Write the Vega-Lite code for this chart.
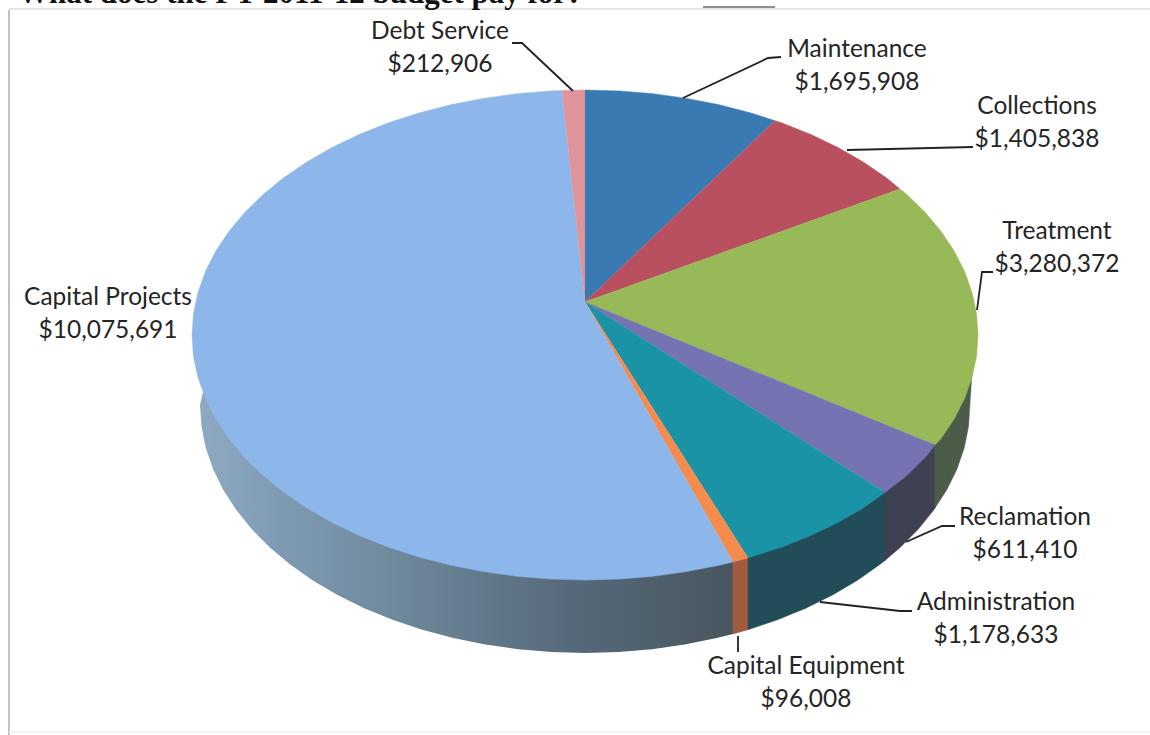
{
  "$schema": "https://vega.github.io/schema/vega-lite/v6.json",
  "width": 1150,
  "height": 735,
  "padding": 0,
  "autosize": {"type": "none"},
  "background": "white",
  "config": {"view": {"stroke": null}},
  "resolve": {"scale": {"fill": "independent", "stroke": "independent"}},
  "datasets": {
    "budget": [
      {"slice": "Debt Service", "amount": 212906, "labelU": -145, "labelV": 303},
      {"slice": "Maintenance", "amount": 1695908, "labelU": 272, "labelV": 285},
      {"slice": "Collections", "amount": 1405838, "labelU": 452, "labelV": 228},
      {"slice": "Treatment", "amount": 3280372, "labelU": 472, "labelV": 103},
      {"slice": "Reclamation", "amount": 611410, "labelU": 440, "labelV": -183},
      {"slice": "Administration", "amount": 1178633, "labelU": 411, "labelV": -268},
      {"slice": "Capital Equipment", "amount": 96008, "labelU": 221, "labelV": -332},
      {"slice": "Capital Projects", "amount": 10075691, "labelU": -477, "labelV": 37}
    ],
    "sides": [
      {"slice": "Capital Projects", "seq": 0, "u": -378, "v": -40},
      {"slice": "Capital Projects", "seq": 1, "u": -385, "v": -70},
      {"slice": "Capital Projects", "seq": 2, "u": -383.5, "v": -91.6},
      {"slice": "Capital Projects", "seq": 3, "u": -379.2, "v": -113.1},
      {"slice": "Capital Projects", "seq": 4, "u": -371.9, "v": -134.2},
      {"slice": "Capital Projects", "seq": 5, "u": -361.8, "v": -154.8},
      {"slice": "Capital Projects", "seq": 6, "u": -348.9, "v": -174.8},
      {"slice": "Capital Projects", "seq": 7, "u": -333.4, "v": -194},
      {"slice": "Capital Projects", "seq": 8, "u": -315.4, "v": -212.2},
      {"slice": "Capital Projects", "seq": 9, "u": -294.9, "v": -229.4},
      {"slice": "Capital Projects", "seq": 10, "u": -272.2, "v": -245.4},
      {"slice": "Capital Projects", "seq": 11, "u": -247.5, "v": -260},
      {"slice": "Capital Projects", "seq": 12, "u": -220.8, "v": -273.2},
      {"slice": "Capital Projects", "seq": 13, "u": -192.5, "v": -284.8},
      {"slice": "Capital Projects", "seq": 14, "u": -162.7, "v": -294.8},
      {"slice": "Capital Projects", "seq": 15, "u": -131.7, "v": -303},
      {"slice": "Capital Projects", "seq": 16, "u": -99.6, "v": -309.5},
      {"slice": "Capital Projects", "seq": 17, "u": -66.9, "v": -314.2},
      {"slice": "Capital Projects", "seq": 18, "u": -33.6, "v": -317.1},
      {"slice": "Capital Projects", "seq": 19, "u": 0, "v": -318},
      {"slice": "Capital Projects", "seq": 20, "u": 33.6, "v": -317.1},
      {"slice": "Capital Projects", "seq": 21, "u": 66.9, "v": -314.2},
      {"slice": "Capital Projects", "seq": 22, "u": 99.6, "v": -309.5},
      {"slice": "Capital Projects", "seq": 23, "u": 131.7, "v": -303},
      {"slice": "Capital Projects", "seq": 24, "u": 148, "v": -299},
      {"slice": "Capital Projects", "seq": 25, "u": 148, "v": -225},
      {"slice": "Capital Equipment", "seq": 0, "u": 148, "v": -225},
      {"slice": "Capital Equipment", "seq": 1, "u": 148, "v": -299},
      {"slice": "Capital Equipment", "seq": 2, "u": 163, "v": -294.7},
      {"slice": "Capital Equipment", "seq": 3, "u": 163, "v": -221},
      {"slice": "Administration", "seq": 0, "u": 163, "v": -221},
      {"slice": "Administration", "seq": 1, "u": 163, "v": -294.7},
      {"slice": "Administration", "seq": 2, "u": 192.5, "v": -284.8},
      {"slice": "Administration", "seq": 3, "u": 220.8, "v": -273.2},
      {"slice": "Administration", "seq": 4, "u": 247.5, "v": -260},
      {"slice": "Administration", "seq": 5, "u": 272.2, "v": -245.4},
      {"slice": "Administration", "seq": 6, "u": 294.9, "v": -229.4},
      {"slice": "Administration", "seq": 7, "u": 300, "v": -225.5},
      {"slice": "Administration", "seq": 8, "u": 300, "v": -155},
      {"slice": "Reclamation", "seq": 0, "u": 300, "v": -155},
      {"slice": "Reclamation", "seq": 1, "u": 300, "v": -225.5},
      {"slice": "Reclamation", "seq": 2, "u": 315.4, "v": -212.2},
      {"slice": "Reclamation", "seq": 3, "u": 333.4, "v": -194},
      {"slice": "Reclamation", "seq": 4, "u": 348.9, "v": -174.8},
      {"slice": "Reclamation", "seq": 5, "u": 350, "v": -173},
      {"slice": "Reclamation", "seq": 6, "u": 350, "v": -108},
      {"slice": "Treatment", "seq": 0, "u": 350, "v": -108},
      {"slice": "Treatment", "seq": 1, "u": 350, "v": -173},
      {"slice": "Treatment", "seq": 2, "u": 361.8, "v": -154.8},
      {"slice": "Treatment", "seq": 3, "u": 371.9, "v": -134.2},
      {"slice": "Treatment", "seq": 4, "u": 379.2, "v": -113.1},
      {"slice": "Treatment", "seq": 5, "u": 383.5, "v": -91.6},
      {"slice": "Treatment", "seq": 6, "u": 385.5, "v": -60},
      {"slice": "Treatment", "seq": 7, "u": 387, "v": -36}
    ],
    "tops": [
      {"slice": "Maintenance", "seq": 0, "u": 0, "v": 33},
      {"slice": "Maintenance", "seq": 1, "u": 0, "v": 245},
      {"slice": "Maintenance", "seq": 2, "u": 34.3, "v": 244.1},
      {"slice": "Maintenance", "seq": 3, "u": 68.2, "v": 241.3},
      {"slice": "Maintenance", "seq": 4, "u": 101.7, "v": 236.6},
      {"slice": "Maintenance", "seq": 5, "u": 134.4, "v": 230.2},
      {"slice": "Maintenance", "seq": 6, "u": 166.1, "v": 222},
      {"slice": "Maintenance", "seq": 7, "u": 190, "v": 214.3},
      {"slice": "Collections", "seq": 0, "u": 0, "v": 33},
      {"slice": "Collections", "seq": 1, "u": 190, "v": 214.3},
      {"slice": "Collections", "seq": 2, "u": 196.5, "v": 212.2},
      {"slice": "Collections", "seq": 3, "u": 225.4, "v": 200.7},
      {"slice": "Collections", "seq": 4, "u": 252.6, "v": 187.7},
      {"slice": "Collections", "seq": 5, "u": 277.9, "v": 173.2},
      {"slice": "Collections", "seq": 6, "u": 301, "v": 157.5},
      {"slice": "Collections", "seq": 7, "u": 315, "v": 146},
      {"slice": "Treatment", "seq": 0, "u": 0, "v": 33},
      {"slice": "Treatment", "seq": 1, "u": 315, "v": 146},
      {"slice": "Treatment", "seq": 2, "u": 321.9, "v": 140.5},
      {"slice": "Treatment", "seq": 3, "u": 340.3, "v": 122.5},
      {"slice": "Treatment", "seq": 4, "u": 356.2, "v": 103.5},
      {"slice": "Treatment", "seq": 5, "u": 369.3, "v": 83.8},
      {"slice": "Treatment", "seq": 6, "u": 379.6, "v": 63.4},
      {"slice": "Treatment", "seq": 7, "u": 387, "v": 42.5},
      {"slice": "Treatment", "seq": 8, "u": 391.5, "v": 21.4},
      {"slice": "Treatment", "seq": 9, "u": 393, "v": 0},
      {"slice": "Treatment", "seq": 10, "u": 391.5, "v": -21.4},
      {"slice": "Treatment", "seq": 11, "u": 387, "v": -42.5},
      {"slice": "Treatment", "seq": 12, "u": 379.6, "v": -63.4},
      {"slice": "Treatment", "seq": 13, "u": 369.3, "v": -83.8},
      {"slice": "Treatment", "seq": 14, "u": 356.2, "v": -103.5},
      {"slice": "Treatment", "seq": 15, "u": 350, "v": -110},
      {"slice": "Reclamation", "seq": 0, "u": 0, "v": 33},
      {"slice": "Reclamation", "seq": 1, "u": 350, "v": -110},
      {"slice": "Reclamation", "seq": 2, "u": 340.3, "v": -122.5},
      {"slice": "Reclamation", "seq": 3, "u": 321.9, "v": -140.5},
      {"slice": "Reclamation", "seq": 4, "u": 300, "v": -157.5},
      {"slice": "Administration", "seq": 0, "u": 0, "v": 33},
      {"slice": "Administration", "seq": 1, "u": 300, "v": -157.5},
      {"slice": "Administration", "seq": 2, "u": 277.9, "v": -173.2},
      {"slice": "Administration", "seq": 3, "u": 252.6, "v": -187.7},
      {"slice": "Administration", "seq": 4, "u": 225.4, "v": -200.7},
      {"slice": "Administration", "seq": 5, "u": 196.5, "v": -212.2},
      {"slice": "Administration", "seq": 6, "u": 166.1, "v": -222},
      {"slice": "Administration", "seq": 7, "u": 163, "v": -223},
      {"slice": "Capital Equipment", "seq": 0, "u": 0, "v": 33},
      {"slice": "Capital Equipment", "seq": 1, "u": 163, "v": -223},
      {"slice": "Capital Equipment", "seq": 2, "u": 148, "v": -227},
      {"slice": "Capital Projects", "seq": 0, "u": 0, "v": 33},
      {"slice": "Capital Projects", "seq": 1, "u": 148, "v": -227},
      {"slice": "Capital Projects", "seq": 2, "u": 134.4, "v": -230.2},
      {"slice": "Capital Projects", "seq": 3, "u": 101.7, "v": -236.6},
      {"slice": "Capital Projects", "seq": 4, "u": 68.2, "v": -241.3},
      {"slice": "Capital Projects", "seq": 5, "u": 34.3, "v": -244.1},
      {"slice": "Capital Projects", "seq": 6, "u": 0, "v": -245},
      {"slice": "Capital Projects", "seq": 7, "u": -34.3, "v": -244.1},
      {"slice": "Capital Projects", "seq": 8, "u": -68.2, "v": -241.3},
      {"slice": "Capital Projects", "seq": 9, "u": -101.7, "v": -236.6},
      {"slice": "Capital Projects", "seq": 10, "u": -134.4, "v": -230.2},
      {"slice": "Capital Projects", "seq": 11, "u": -166.1, "v": -222},
      {"slice": "Capital Projects", "seq": 12, "u": -196.5, "v": -212.2},
      {"slice": "Capital Projects", "seq": 13, "u": -225.4, "v": -200.7},
      {"slice": "Capital Projects", "seq": 14, "u": -252.6, "v": -187.7},
      {"slice": "Capital Projects", "seq": 15, "u": -277.9, "v": -173.2},
      {"slice": "Capital Projects", "seq": 16, "u": -301, "v": -157.5},
      {"slice": "Capital Projects", "seq": 17, "u": -321.9, "v": -140.5},
      {"slice": "Capital Projects", "seq": 18, "u": -340.3, "v": -122.5},
      {"slice": "Capital Projects", "seq": 19, "u": -356.2, "v": -103.5},
      {"slice": "Capital Projects", "seq": 20, "u": -369.3, "v": -83.8},
      {"slice": "Capital Projects", "seq": 21, "u": -379.6, "v": -63.4},
      {"slice": "Capital Projects", "seq": 22, "u": -387, "v": -42.5},
      {"slice": "Capital Projects", "seq": 23, "u": -391.5, "v": -21.4},
      {"slice": "Capital Projects", "seq": 24, "u": -393, "v": 0},
      {"slice": "Capital Projects", "seq": 25, "u": -391.5, "v": 21.4},
      {"slice": "Capital Projects", "seq": 26, "u": -387, "v": 42.5},
      {"slice": "Capital Projects", "seq": 27, "u": -379.6, "v": 63.4},
      {"slice": "Capital Projects", "seq": 28, "u": -369.3, "v": 83.8},
      {"slice": "Capital Projects", "seq": 29, "u": -356.2, "v": 103.5},
      {"slice": "Capital Projects", "seq": 30, "u": -340.3, "v": 122.5},
      {"slice": "Capital Projects", "seq": 31, "u": -321.9, "v": 140.5},
      {"slice": "Capital Projects", "seq": 32, "u": -301, "v": 157.5},
      {"slice": "Capital Projects", "seq": 33, "u": -277.9, "v": 173.2},
      {"slice": "Capital Projects", "seq": 34, "u": -252.6, "v": 187.7},
      {"slice": "Capital Projects", "seq": 35, "u": -225.4, "v": 200.7},
      {"slice": "Capital Projects", "seq": 36, "u": -196.5, "v": 212.2},
      {"slice": "Capital Projects", "seq": 37, "u": -166.1, "v": 222},
      {"slice": "Capital Projects", "seq": 38, "u": -134.4, "v": 230.2},
      {"slice": "Capital Projects", "seq": 39, "u": -101.7, "v": 236.6},
      {"slice": "Capital Projects", "seq": 40, "u": -68.2, "v": 241.3},
      {"slice": "Capital Projects", "seq": 41, "u": -34.3, "v": 244.1},
      {"slice": "Capital Projects", "seq": 42, "u": -23, "v": 244.6},
      {"slice": "Debt Service", "seq": 0, "u": 0, "v": 33},
      {"slice": "Debt Service", "seq": 1, "u": -23, "v": 244.6},
      {"slice": "Debt Service", "seq": 2, "u": 0, "v": 245}
    ],
    "leaders": [
      {"slice": "Debt Service", "seq": 0, "u": -73, "v": 292},
      {"slice": "Debt Service", "seq": 1, "u": -63, "v": 292},
      {"slice": "Debt Service", "seq": 2, "u": -12, "v": 244},
      {"slice": "Maintenance", "seq": 0, "u": 196, "v": 278},
      {"slice": "Maintenance", "seq": 1, "u": 183, "v": 277},
      {"slice": "Maintenance", "seq": 2, "u": 98, "v": 237},
      {"slice": "Collections", "seq": 0, "u": 388, "v": 188},
      {"slice": "Collections", "seq": 1, "u": 262, "v": 185},
      {"slice": "Treatment", "seq": 0, "u": 408, "v": 63},
      {"slice": "Treatment", "seq": 1, "u": 397, "v": 63},
      {"slice": "Treatment", "seq": 2, "u": 392, "v": 25},
      {"slice": "Reclamation", "seq": 0, "u": 370, "v": -191},
      {"slice": "Reclamation", "seq": 1, "u": 357, "v": -191},
      {"slice": "Reclamation", "seq": 2, "u": 321, "v": -207},
      {"slice": "Administration", "seq": 0, "u": 327, "v": -276},
      {"slice": "Administration", "seq": 1, "u": 315, "v": -276},
      {"slice": "Administration", "seq": 2, "u": 235, "v": -267},
      {"slice": "Capital Equipment", "seq": 0, "u": 153, "v": -301},
      {"slice": "Capital Equipment", "seq": 1, "u": 153, "v": -317}
    ],
    "frame": [
      {"edge": "left", "u": -576, "v": 325, "u2": -576, "v2": -400},
      {"edge": "top", "u": -576, "v": 326, "u2": 565, "v2": 326},
      {"edge": "bottom", "u": -576, "v": -397, "u2": 565, "v2": -397},
      {"edge": "underline", "u": 118, "v": 328, "u2": 190, "v2": 328}
    ]
  },
  "encoding": {
    "x": {"field": "u", "type": "quantitative", "axis": null, "scale": {"domain": [-585, 565], "nice": false, "zero": false}},
    "y": {"field": "v", "type": "quantitative", "axis": null, "scale": {"domain": [-400, 335], "nice": false, "zero": false}}
  },
  "layer": [
    {
      "data": {"name": "frame"},
      "mark": {"type": "rule", "strokeWidth": 1.6},
      "encoding": {
        "x2": {"field": "u2"},
        "y2": {"field": "v2"},
        "stroke": {
          "field": "edge",
          "type": "nominal",
          "legend": null,
          "scale": {"domain": ["left", "top", "bottom", "underline"], "range": ["#b4b4b4", "#dcdcdc", "#f1f1f1", "#6a6a6a"]}
        }
      }
    },
    {
      "data": {"values": [{"heading": "What does the FY 2011-12 budget pay for?", "u": -567, "v": 332}]},
      "mark": {"type": "text", "font": "Liberation Serif", "fontWeight": "bold", "fontSize": 31, "align": "left", "baseline": "alphabetic", "color": "#111111"},
      "encoding": {"text": {"field": "heading"}}
    },
    {
      "data": {"name": "sides"},
      "transform": [{"filter": "datum.slice === 'Capital Projects'"}],
      "mark": {
        "type": "line",
        "strokeWidth": 0,
        "fill": {
          "gradient": "linear", "x1": 0, "y1": 0, "x2": 1, "y2": 0,
          "stops": [
            {"offset": 0, "color": "#8fa9c3"},
            {"offset": 0.15, "color": "#7f9bb4"},
            {"offset": 0.4, "color": "#6c8698"},
            {"offset": 0.7, "color": "#56697a"},
            {"offset": 1, "color": "#48565f"}
          ]
        }
      },
      "encoding": {"order": {"field": "seq", "type": "quantitative"}}
    },
    {
      "data": {"name": "sides"},
      "transform": [{"filter": "datum.slice !== 'Capital Projects'"}],
      "mark": {"type": "line", "strokeWidth": 0.5},
      "encoding": {
        "order": {"field": "seq", "type": "quantitative"},
        "fill": {
          "field": "slice", "type": "nominal", "legend": null,
          "scale": {"domain": ["Capital Equipment", "Administration", "Reclamation", "Treatment"], "range": ["#a15c40", "#234c59", "#3d4152", "#4b5d49"]}
        },
        "stroke": {
          "field": "slice", "type": "nominal", "legend": null,
          "scale": {"domain": ["Capital Equipment", "Administration", "Reclamation", "Treatment"], "range": ["#a15c40", "#234c59", "#3d4152", "#4b5d49"]}
        }
      }
    },
    {
      "data": {"name": "tops"},
      "mark": {"type": "line", "strokeWidth": 0.5},
      "encoding": {
        "order": {"field": "seq", "type": "quantitative"},
        "fill": {
          "field": "slice", "type": "nominal", "legend": null,
          "scale": {
            "domain": ["Debt Service", "Maintenance", "Collections", "Treatment", "Reclamation", "Administration", "Capital Equipment", "Capital Projects"],
            "range": ["#df949c", "#3a7ab2", "#b9505f", "#97b957", "#7573b2", "#1b93a7", "#f58b4d", "#8db7ea"]
          }
        },
        "stroke": {
          "field": "slice", "type": "nominal", "legend": null,
          "scale": {
            "domain": ["Debt Service", "Maintenance", "Collections", "Treatment", "Reclamation", "Administration", "Capital Equipment", "Capital Projects"],
            "range": ["#df949c", "#3a7ab2", "#b9505f", "#97b957", "#7573b2", "#1b93a7", "#f58b4d", "#8db7ea"]
          }
        }
      }
    },
    {
      "data": {"name": "leaders"},
      "mark": {"type": "line", "stroke": "#222222", "strokeWidth": 1.8},
      "encoding": {
        "detail": {"field": "slice"},
        "order": {"field": "seq", "type": "quantitative"}
      }
    },
    {
      "data": {"name": "budget"},
      "mark": {"type": "text", "font": "Lato", "fontSize": 24.5, "align": "center", "baseline": "middle", "color": "#252525"},
      "encoding": {
        "x": {"field": "labelU", "type": "quantitative"},
        "y": {"field": "labelV", "type": "quantitative"},
        "text": {"field": "slice"}
      }
    },
    {
      "data": {"name": "budget"},
      "mark": {"type": "text", "font": "Lato", "fontSize": 24.5, "align": "center", "baseline": "middle", "color": "#252525", "dy": 33},
      "encoding": {
        "x": {"field": "labelU", "type": "quantitative"},
        "y": {"field": "labelV", "type": "quantitative"},
        "text": {"field": "amount", "type": "quantitative", "format": "$,.0f"}
      }
    }
  ]
}
